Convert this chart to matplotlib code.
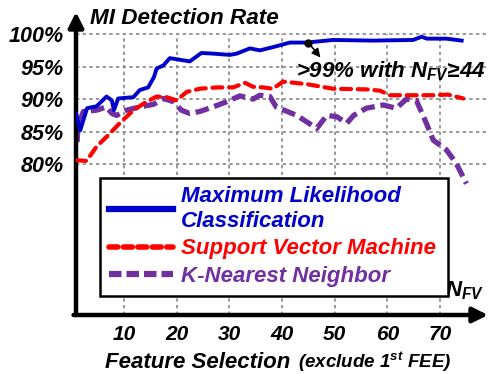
import matplotlib.pyplot as plt
from matplotlib.lines import Line2D

# Maximum Likelihood Classification (blue)
ml_x = [0.9, 1.7, 3.0, 4.8, 6.7, 7.7, 8.1, 8.9, 11.8, 13.0, 14.6, 15.7, 16.2, 17.5, 18.7,
        20.3, 22.5, 24.7, 26.9, 30.1, 31.4, 33.9, 35.8, 38.3, 41.5, 44.7, 49.7, 57.3, 64.9,
        66.5, 67.5, 71.2, 74.1]
ml_y = [87.8, 85.2, 88.6, 88.9, 90.4, 89.8, 88.3, 90.1, 90.3, 91.4, 91.8, 93.4, 94.7, 95.2, 96.3,
        96.1, 95.8, 97.1, 97.0, 96.8, 97.0, 97.8, 97.5, 98.0, 98.7, 98.7, 99.1, 99.0, 99.1,
        99.6, 99.3, 99.3, 99.0]

# Support Vector Machine (red)
svm_x = [0.9, 2.9, 4.8, 6.7, 9.2, 11.8, 14.3, 16.2, 18.1, 20.0, 21.9, 24.4, 27.6, 30.7, 33.0,
         34.5, 36.4, 38.3, 40.2, 44.7, 49.7, 56.0, 58.6, 60.5, 64.9, 68.7, 71.5, 74.4]
svm_y = [80.6, 80.5, 82.7, 84.2, 86.3, 88.3, 89.6, 90.4, 90.3, 89.8, 91.1, 91.6, 91.8, 91.8, 92.5,
         91.9, 91.8, 91.6, 92.7, 92.3, 91.6, 91.5, 91.3, 90.6, 90.6, 90.6, 90.7, 90.1]

# K-Nearest Neighbor (purple)
knn_x = [1.1, 1.3, 2.3, 4.8, 6.7, 7.7, 8.6, 10.5, 13.0, 15.6, 17.5, 19.4, 20.9, 22.5, 24.4,
         26.9, 29.5, 32.0, 34.5, 35.8, 37.7, 38.9, 42.8, 46.6, 48.5, 50.4, 52.3, 53.6, 56.0,
         59.2, 61.7, 63.6, 65.5, 67.4, 68.7, 71.2, 73.1, 75.0]
knn_y = [83.4, 86.0, 88.1, 88.3, 88.8, 87.8, 87.5, 88.3, 88.8, 89.2, 90.1, 89.6, 88.3, 87.8, 88.1,
         88.8, 89.6, 90.5, 90.0, 90.6, 90.4, 88.8, 87.5, 85.5, 87.5, 87.3, 86.3, 87.5, 88.6,
         89.1, 88.6, 90.0, 89.8, 86.3, 83.7, 82.2, 80.1, 77.0]

yticks = [80, 85, 90, 95, 100]
ytick_labels = ['80%', '85%', '90%', '95%', '100%']
xticks = [10, 20, 30, 40, 50, 60, 70]

blue = '#0000CC'
red = '#FF0000'
purple = '#7030A0'

plt.rcParams['font.family'] = ['Liberation Sans', 'DejaVu Sans']
plt.rcParams['mathtext.fontset'] = 'custom'
plt.rcParams['mathtext.it'] = 'Liberation Sans:bold:italic'
plt.rcParams['mathtext.rm'] = 'Liberation Sans:bold:italic'
plt.rcParams['mathtext.bf'] = 'Liberation Sans:bold:italic'
font = dict(fontweight='bold', fontstyle='italic')

fig = plt.figure(figsize=(4.89, 3.74), dpi=100)
ax = fig.add_axes([76 / 489, 1 - 315 / 374, 412 / 489, 303 / 374])
xmin, xmax = 0.9, 79.1
ymin, ymax = 56.8, 103.4
ax.set_xlim(xmin, xmax)
ax.set_ylim(ymin, ymax)

# dashed grid
ax.hlines(yticks, xmin, xmax, colors='#888888', linestyles=(0, (2, 2)), linewidth=1.2, zorder=1)
ax.vlines(xticks, ymin, 100, colors='#888888', linestyles=(0, (2, 2)), linewidth=1.2, zorder=1)

ax.plot(knn_x, knn_y, color=purple, lw=3.8, ls=(0, (2.6, 1.1)), zorder=3)
ax.plot(svm_x, svm_y, color=red, lw=3.0, ls=(0, (2.4, 1.6)), dash_capstyle='round', zorder=4)
ax.plot(ml_x, ml_y, color=blue, lw=2.8, zorder=5)

for s in ax.spines.values():
    s.set_visible(False)
ax.set_xticks(xticks)
ax.set_xticklabels([str(t) for t in xticks], fontsize=15, **font)
ax.set_yticks(yticks)
ax.set_yticklabels(ytick_labels, fontsize=15.5, **font)
ax.tick_params(axis='x', length=0, pad=7)
ax.tick_params(axis='y', length=0, pad=9)

# arrow axes
arrow = dict(arrowstyle='-|>,head_length=0.9,head_width=0.45', lw=3.2, color='black',
             shrinkA=0, shrinkB=0)
ax.annotate('', xy=(0, 1.0), xytext=(0, 0), xycoords='axes fraction', arrowprops=arrow,
            annotation_clip=False)
ax.annotate('', xy=(1.0, 0), xytext=(-0.006, 0), xycoords='axes fraction', arrowprops=arrow,
            annotation_clip=False)

fig.text(90 / 489, 1 - 18 / 374, 'MI Detection Rate', fontsize=16.2, va='center', **font)
ax.text(71.0, 60.6, r'$N_{FV}$', fontsize=16, ha='left', va='center')

# annotation
ax.plot([45.0], [98.7], 'o', color='black', ms=5, zorder=6)
ax.annotate('', xy=(47.3, 96.4), xytext=(45.0, 98.7),
            arrowprops=dict(arrowstyle='-|>,head_length=0.5,head_width=0.25', lw=1.2,
                            color='black', shrinkA=0, shrinkB=0), zorder=6)
ax.text(42.6, 94.3, r'>99% with $N_{FV}$≥44', fontsize=16, va='center', **font)

# x label
fig.text(105 / 489, 1 - 362 / 374, 'Feature Selection', fontsize=16, va='center', **font)
fig.text(298 / 489, 1 - 362 / 374, r'(exclude 1$^{st}$ FEE)', fontsize=13.5, va='center', **font)

handles = [Line2D([], [], color=blue, lw=4.5),
           Line2D([], [], color=red, lw=4.0, ls=(0, (1.6, 1.0)), dash_capstyle='round'),
           Line2D([], [], color=purple, lw=4.5, ls=(0, (2.0, 0.8)))]
labels = ['Maximum Likelihood\nClassification', 'Support Vector Machine', 'K-Nearest Neighbor']
leg = ax.legend(handles, labels, loc='lower left', bbox_to_anchor=(0.058, 0.063, 0.845, 0.393),
                mode='expand', frameon=True, fancybox=False, edgecolor='black', framealpha=1,
                handlelength=2.9, handletextpad=0.35, labelspacing=0.3, borderpad=0.4,
                borderaxespad=0,
                prop=dict(family='Liberation Sans', weight='bold', style='italic', size=16))
leg.get_frame().set_linewidth(1.8)
for t, c in zip(leg.get_texts(), [blue, red, purple]):
    t.set_color(c)
leg.set_zorder(7)

fig.savefig('out.png', dpi=100)
